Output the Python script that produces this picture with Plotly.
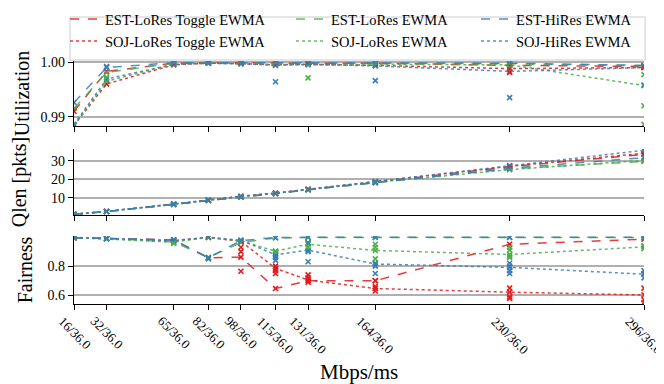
import plotly.graph_objects as go
from plotly.subplots import make_subplots

# x positions (Mbps) and the tick labels (Mbps/ms)
x_mbps = [16, 32, 65, 82, 98, 115, 131, 164, 230, 296]
x_labels = ["16/36.0", "32/36.0", "65/36.0", "82/36.0", "98/36.0",
            "115/36.0", "131/36.0", "164/36.0", "230/36.0", "296/36.0"]

# utilization (mean per point)
est_toggle_util = [0.9910, 0.9983, 0.9998, 0.9999, 0.9999, 0.9998, 0.9998, 0.9998, 0.9994, 0.9992]
est_lores_util = [0.9915, 0.9981, 0.9998, 0.9999, 0.9999, 0.9998, 0.9998, 0.9998, 0.9997, 0.9993]
est_hires_util = [0.9926, 0.9990, 0.9999, 0.9999, 0.9999, 0.9999, 0.9998, 0.9998, 0.9998, 0.9994]
soj_toggle_util = [0.9884, 0.9960, 0.9995, 0.9998, 0.9997, 0.9995, 0.9996, 0.9994, 0.9988, 0.9990]
soj_lores_util = [0.9884, 0.9965, 0.9996, 0.9998, 0.9997, 0.9996, 0.9995, 0.9996, 0.9995, 0.9957]
soj_hires_util = [0.9886, 0.9969, 0.9996, 0.9998, 0.9997, 0.9994, 0.9996, 0.9993, 0.9983, 0.9990]

# queue length [pkts]
est_toggle_qlen = [1.2, 2.7, 6.6, 8.8, 10.6, 12.4, 14.5, 18.4, 26.8, 33.4]
est_lores_qlen = [1.2, 2.7, 6.5, 8.7, 10.5, 12.3, 14.4, 18.2, 25.6, 29.6]
est_hires_qlen = [1.2, 2.7, 6.5, 8.7, 10.5, 12.3, 14.4, 18.2, 26.0, 31.6]
soj_toggle_qlen = [1.2, 2.8, 6.7, 8.9, 10.9, 12.6, 14.6, 18.7, 27.0, 34.0]
soj_lores_qlen = [1.2, 2.7, 6.6, 8.8, 10.7, 12.4, 14.5, 18.3, 25.2, 30.2]
soj_hires_qlen = [1.2, 2.8, 6.7, 8.9, 10.9, 12.6, 14.6, 18.8, 27.4, 35.6]

# fairness
est_toggle_fair = [0.995, 0.990, 0.980, 0.857, 0.862, 0.647, 0.700, 0.700, 0.950, 0.985]
est_lores_fair = [0.995, 0.990, 0.965, 0.860, 0.962, 0.993, 0.997, 0.997, 0.997, 0.997]
est_hires_fair = [0.995, 0.990, 0.980, 0.858, 0.975, 0.997, 0.998, 0.998, 0.998, 0.998]
soj_toggle_fair = [0.995, 0.990, 0.975, 0.997, 0.970, 0.785, 0.705, 0.647, 0.622, 0.603]
soj_lores_fair = [0.995, 0.985, 0.965, 0.997, 0.972, 0.903, 0.950, 0.908, 0.880, 0.932]
soj_hires_fair = [0.997, 0.990, 0.975, 0.998, 0.978, 0.878, 0.910, 0.815, 0.792, 0.745]

# individual runs that stand out from the means
red_util_runs_x = [230, 296]
red_util_runs_y = [0.9981, 0.9990]
green_util_runs_x = [32, 131, 296, 296, 296]
green_util_runs_y = [0.9972, 0.9971, 0.9977, 0.9920, 0.9886]
blue_util_runs_x = [32, 115, 164, 230, 296]
blue_util_runs_y = [0.9992, 0.9964, 0.9966, 0.9935, 0.9958]

red_fair_runs_x = [98, 98, 98, 115, 115, 115, 131, 131, 131, 164, 164, 164, 230, 230, 230, 296, 296, 296]
red_fair_runs_y = [0.765, 0.900, 0.930, 0.750, 0.770, 0.800, 0.690, 0.720, 0.740, 0.630, 0.660, 0.700,
                   0.650, 0.590, 0.580, 0.650, 0.570, 0.550]
green_fair_runs_x = [65, 115, 115, 131, 131, 164, 164, 164, 230, 230, 230, 230, 296, 296]
green_fair_runs_y = [0.955, 0.890, 0.900, 0.930, 0.960, 0.850, 0.930, 0.950, 0.930, 0.910, 0.870, 0.860,
                     0.920, 0.940]
blue_fair_runs_x = [82, 115, 115, 115, 131, 131, 131, 164, 164, 164, 230, 230, 230, 230, 296, 296, 296]
blue_fair_runs_y = [0.850, 0.840, 0.860, 0.870, 0.830, 0.900, 0.960, 0.750, 0.800, 0.820, 0.750, 0.770,
                    0.800, 0.820, 0.720, 0.750, 0.770]

RED, GREEN, BLUE = "#e41a1c", "#4daf4a", "#377eb8"
FONT = "Liberation Serif"

# name, colour, dash, legend column, values
series = [
    ("EST-LoRes Toggle EWMA", RED, "dash", "legend", est_toggle_util, est_toggle_qlen, est_toggle_fair),
    ("SOJ-LoRes Toggle EWMA", RED, "dot", "legend", soj_toggle_util, soj_toggle_qlen, soj_toggle_fair),
    ("EST-LoRes EWMA", GREEN, "dash", "legend2", est_lores_util, est_lores_qlen, est_lores_fair),
    ("SOJ-LoRes EWMA", GREEN, "dot", "legend2", soj_lores_util, soj_lores_qlen, soj_lores_fair),
    ("EST-HiRes EWMA", BLUE, "dash", "legend3", est_hires_util, est_hires_qlen, est_hires_fair),
    ("SOJ-HiRes EWMA", BLUE, "dot", "legend3", soj_hires_util, soj_hires_qlen, soj_hires_fair),
]

fig = make_subplots(rows=3, cols=1, shared_xaxes=True)


def run_marker(color):
    return dict(color=color, symbol="x-thin", size=5, line=dict(width=1.6, color=color))


# run markers first so the lines sit on top
for name, color, dash, leg, util, qlen, fair in series:
    for row, vals in ((1, util), (2, qlen), (3, fair)):
        fig.add_trace(go.Scatter(x=x_mbps, y=vals, mode="markers", showlegend=False,
                                 marker=run_marker(color)), row=row, col=1)

for color, rx, ry, row in [(RED, red_util_runs_x, red_util_runs_y, 1),
                           (GREEN, green_util_runs_x, green_util_runs_y, 1),
                           (BLUE, blue_util_runs_x, blue_util_runs_y, 1),
                           (RED, red_fair_runs_x, red_fair_runs_y, 3),
                           (GREEN, green_fair_runs_x, green_fair_runs_y, 3),
                           (BLUE, blue_fair_runs_x, blue_fair_runs_y, 3)]:
    fig.add_trace(go.Scatter(x=rx, y=ry, mode="markers", showlegend=False,
                             marker=run_marker(color)), row=row, col=1)

for name, color, dash, leg, util, qlen, fair in series:
    for row, vals in ((1, util), (2, qlen), (3, fair)):
        fig.add_trace(go.Scatter(x=x_mbps, y=vals, mode="lines", name=name, legend=leg,
                                 legendgroup=leg, showlegend=(row == 1), opacity=0.85,
                                 line=dict(color=color, dash=dash, width=1.5)),
                      row=row, col=1)

axis_common = dict(showline=True, linecolor="black", linewidth=1.2, ticks="outside",
                   ticklen=5, tickcolor="black", mirror=False, zeroline=False,
                   tickfont=dict(family=FONT, size=14, color="black"))
title_font = dict(family=FONT, size=20, color="black")

for i in (1, 2, 3):
    fig.update_xaxes(range=[16, 296], tickvals=x_mbps, showticklabels=False, showgrid=False,
                     **axis_common, row=i, col=1)
    fig.update_yaxes(showgrid=True, gridcolor="#b0b0b0", gridwidth=1.5, **axis_common,
                     row=i, col=1)

fig.update_yaxes(range=[0.9883, 1.0002], tickvals=[0.99, 1.0], ticktext=["0.99", "1.00"],
                 title=dict(text="Utilization", font=title_font, standoff=5), row=1, col=1)
fig.update_yaxes(range=[0.8, 36.3], tickvals=[10, 20, 30],
                 title=dict(text="Qlen [pkts]", font=title_font, standoff=22), row=2, col=1)
fig.update_yaxes(range=[0.541, 1.007], tickvals=[0.6, 0.8], ticktext=["0.6", "0.8"],
                 title=dict(text="Fairness", font=title_font, standoff=9), row=3, col=1)

# rotated x tick labels centred under their ticks
for xv, lab in zip(x_mbps, x_labels):
    fig.add_annotation(x=xv, xref="x3", y=0, yref="y3 domain", yshift=-7, text=lab,
                       textangle=45, showarrow=False, xanchor="center", yanchor="top",
                       font=dict(family=FONT, size=13, color="black"))
fig.add_annotation(x=0.5, xref="paper", y=-0.28, yref="paper", text="Mbps/ms",
                   showarrow=False, xanchor="center", yanchor="middle",
                   font=dict(family=FONT, size=21, color="black"))

# legend frame
fig.add_shape(type="rect", xref="paper", yref="paper", x0=-0.007, x1=1.002, y0=1.004, y1=1.181,
              line=dict(color="#cccccc", width=1), fillcolor="white", layer="below")

legend_common = dict(orientation="v", y=1.238, yanchor="top", xanchor="left", itemwidth=30,
                     bgcolor="rgba(0,0,0,0)", borderwidth=0, tracegroupgap=0,
                     font=dict(family=FONT, size=14.5, color="black"))

fig.update_layout(
    width=664, height=384,
    margin=dict(l=66, r=28, t=53, b=88, autoexpand=False),
    plot_bgcolor="white", paper_bgcolor="white",
    font=dict(family=FONT, size=13, color="black"),
    yaxis=dict(domain=[0.7325, 1.0]),
    yaxis2=dict(domain=[0.366, 0.638]),
    yaxis3=dict(domain=[0.0, 0.28]),
    legend=dict(x=-0.0158, **legend_common),
    legend2=dict(x=0.3807, **legend_common),
    legend3=dict(x=0.7053, **legend_common),
)

fig.write_html("out.html")
